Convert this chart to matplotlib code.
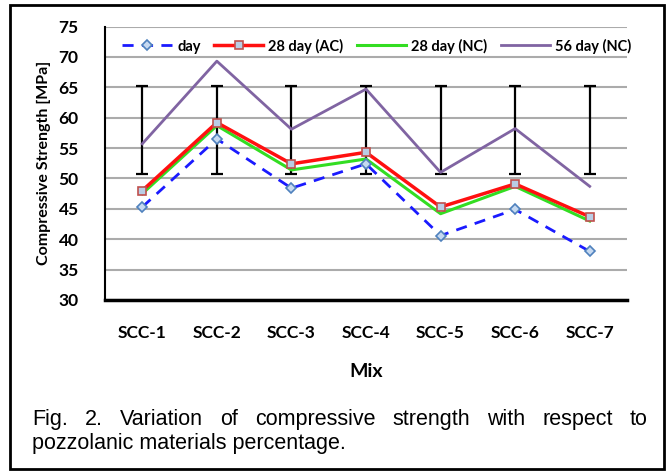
import matplotlib
matplotlib.use("Agg")
import matplotlib.pyplot as plt
from matplotlib.patches import Rectangle

# ── data ─────────────────────────────────────
mixes      = ["SCC-1", "SCC-2", "SCC-3", "SCC-4", "SCC-5", "SCC-6", "SCC-7"]
day        = [45.3, 56.5, 48.4, 52.4, 40.6, 44.9, 38.0]
day28_ac   = [48.0, 59.2, 52.4, 54.3, 45.3, 49.1, 43.7]
day28_nc   = [47.5, 58.7, 51.4, 53.2, 44.2, 48.7, 43.0]
day56_nc   = [55.7, 69.3, 58.1, 64.7, 51.0, 58.2, 48.7]
bar_low    = [50.8, 50.8, 50.8, 50.8, 50.8, 50.8, 50.8]
bar_high   = [65.2, 65.2, 65.2, 65.2, 65.2, 65.2, 65.2]
y_ticks    = [30, 35, 40, 45, 50, 55, 60, 65, 70, 75]

caption_1 = "Fig. 2. Variation of compressive strength with respect to"
caption_2 = "pozzolanic materials percentage."

FONT = "Lato"
W, H = 669, 472

fig = plt.figure(figsize=(W / 100, H / 100), dpi=100)
ax = fig.add_axes([105 / W, 1 - 300 / H, 522 / W, 273.5 / H])

x = list(range(len(mixes)))

# error bars (vertical ranges)
mid = [(lo + hi) / 2 for lo, hi in zip(bar_low, bar_high)]
half = [(hi - lo) / 2 for lo, hi in zip(bar_low, bar_high)]
ax.errorbar(x, mid, yerr=half, fmt="none", ecolor="black", elinewidth=1.6,
            capsize=4, capthick=1.6, zorder=2)

ax.plot(x, day56_nc, color="#8064a2", lw=2, label="56 day (NC)", zorder=3)
ax.plot(x, day28_nc, color="#33dd22", lw=2.2, label="28 day (NC)", zorder=4)
ax.plot(x, day28_ac, color="#ff1010", lw=2.5, marker="s", markersize=5.5,
        markerfacecolor="#b9cde5", markeredgecolor="#c0504d", markeredgewidth=1.2,
        label="28 day (AC)", zorder=5)
ax.plot(x, day, color="#1a1aff", lw=2, ls=(0, (4, 3)), marker="D", markersize=5.5,
        markerfacecolor="#c6d9f1", markeredgecolor="#4f81bd", markeredgewidth=1.2,
        label="day", zorder=6)

ax.set_xlim(-0.5, len(mixes) - 0.5)
ax.set_ylim(30, 75)
ax.set_yticks(y_ticks)
ax.set_xticks(x)
ax.set_xticklabels(mixes)
ax.yaxis.grid(True, color="#ababab", lw=1.5)
ax.set_axisbelow(True)
ax.tick_params(length=0, labelsize=12.5)
ax.tick_params(axis="y", pad=19)
ax.tick_params(axis="x", pad=18)
for lab in ax.get_xticklabels() + ax.get_yticklabels():
    lab.set_fontfamily(FONT)
    lab.set_fontweight("bold")

for s in ["top", "right"]:
    ax.spines[s].set_visible(False)
ax.spines["left"].set_linewidth(1.5)
ax.spines["bottom"].set_linewidth(2.5)

ax.set_xlabel("Mix", fontfamily=FONT, fontweight="bold", fontsize=14, labelpad=16)
ax.set_ylabel("Compressive Strength [MPa]", fontfamily=FONT, fontweight="bold",
              fontsize=11.5, labelpad=5)

handles, labels = ax.get_legend_handles_labels()
order = [3, 2, 1, 0]
leg = fig.legend([handles[i] for i in order], [labels[i] for i in order],
                 loc="center", bbox_to_anchor=(377 / W, 1 - 46 / H), ncol=4,
                 frameon=False, handlelength=3.4, handletextpad=0.35,
                 columnspacing=0.9, prop={"family": FONT, "weight": "bold", "size": 10.5})

# ── caption, first line justified ────────────
cap_kw = dict(fontfamily="Liberation Sans", fontsize=15.5, va="baseline")
left_px, right_px = 32, 648
words = caption_1.split()
fig.canvas.draw()
r = fig.canvas.get_renderer()
texts = [fig.text(0, 1 - 425 / H, w, **cap_kw) for w in words]
widths = [t.get_window_extent(r).width for t in texts]
gap = (right_px - left_px - sum(widths)) / (len(words) - 1)
pos = left_px
for t, w in zip(texts, widths):
    t.set_x(pos / W)
    pos += w + gap
fig.text(left_px / W, 1 - 449 / H, caption_2, **cap_kw)

fig.add_artist(Rectangle((10 / W, 3 / H), 654 / W, 464 / H, transform=fig.transFigure,
                         fill=False, edgecolor="black", lw=2))

plt.savefig("out.png", dpi=100)
